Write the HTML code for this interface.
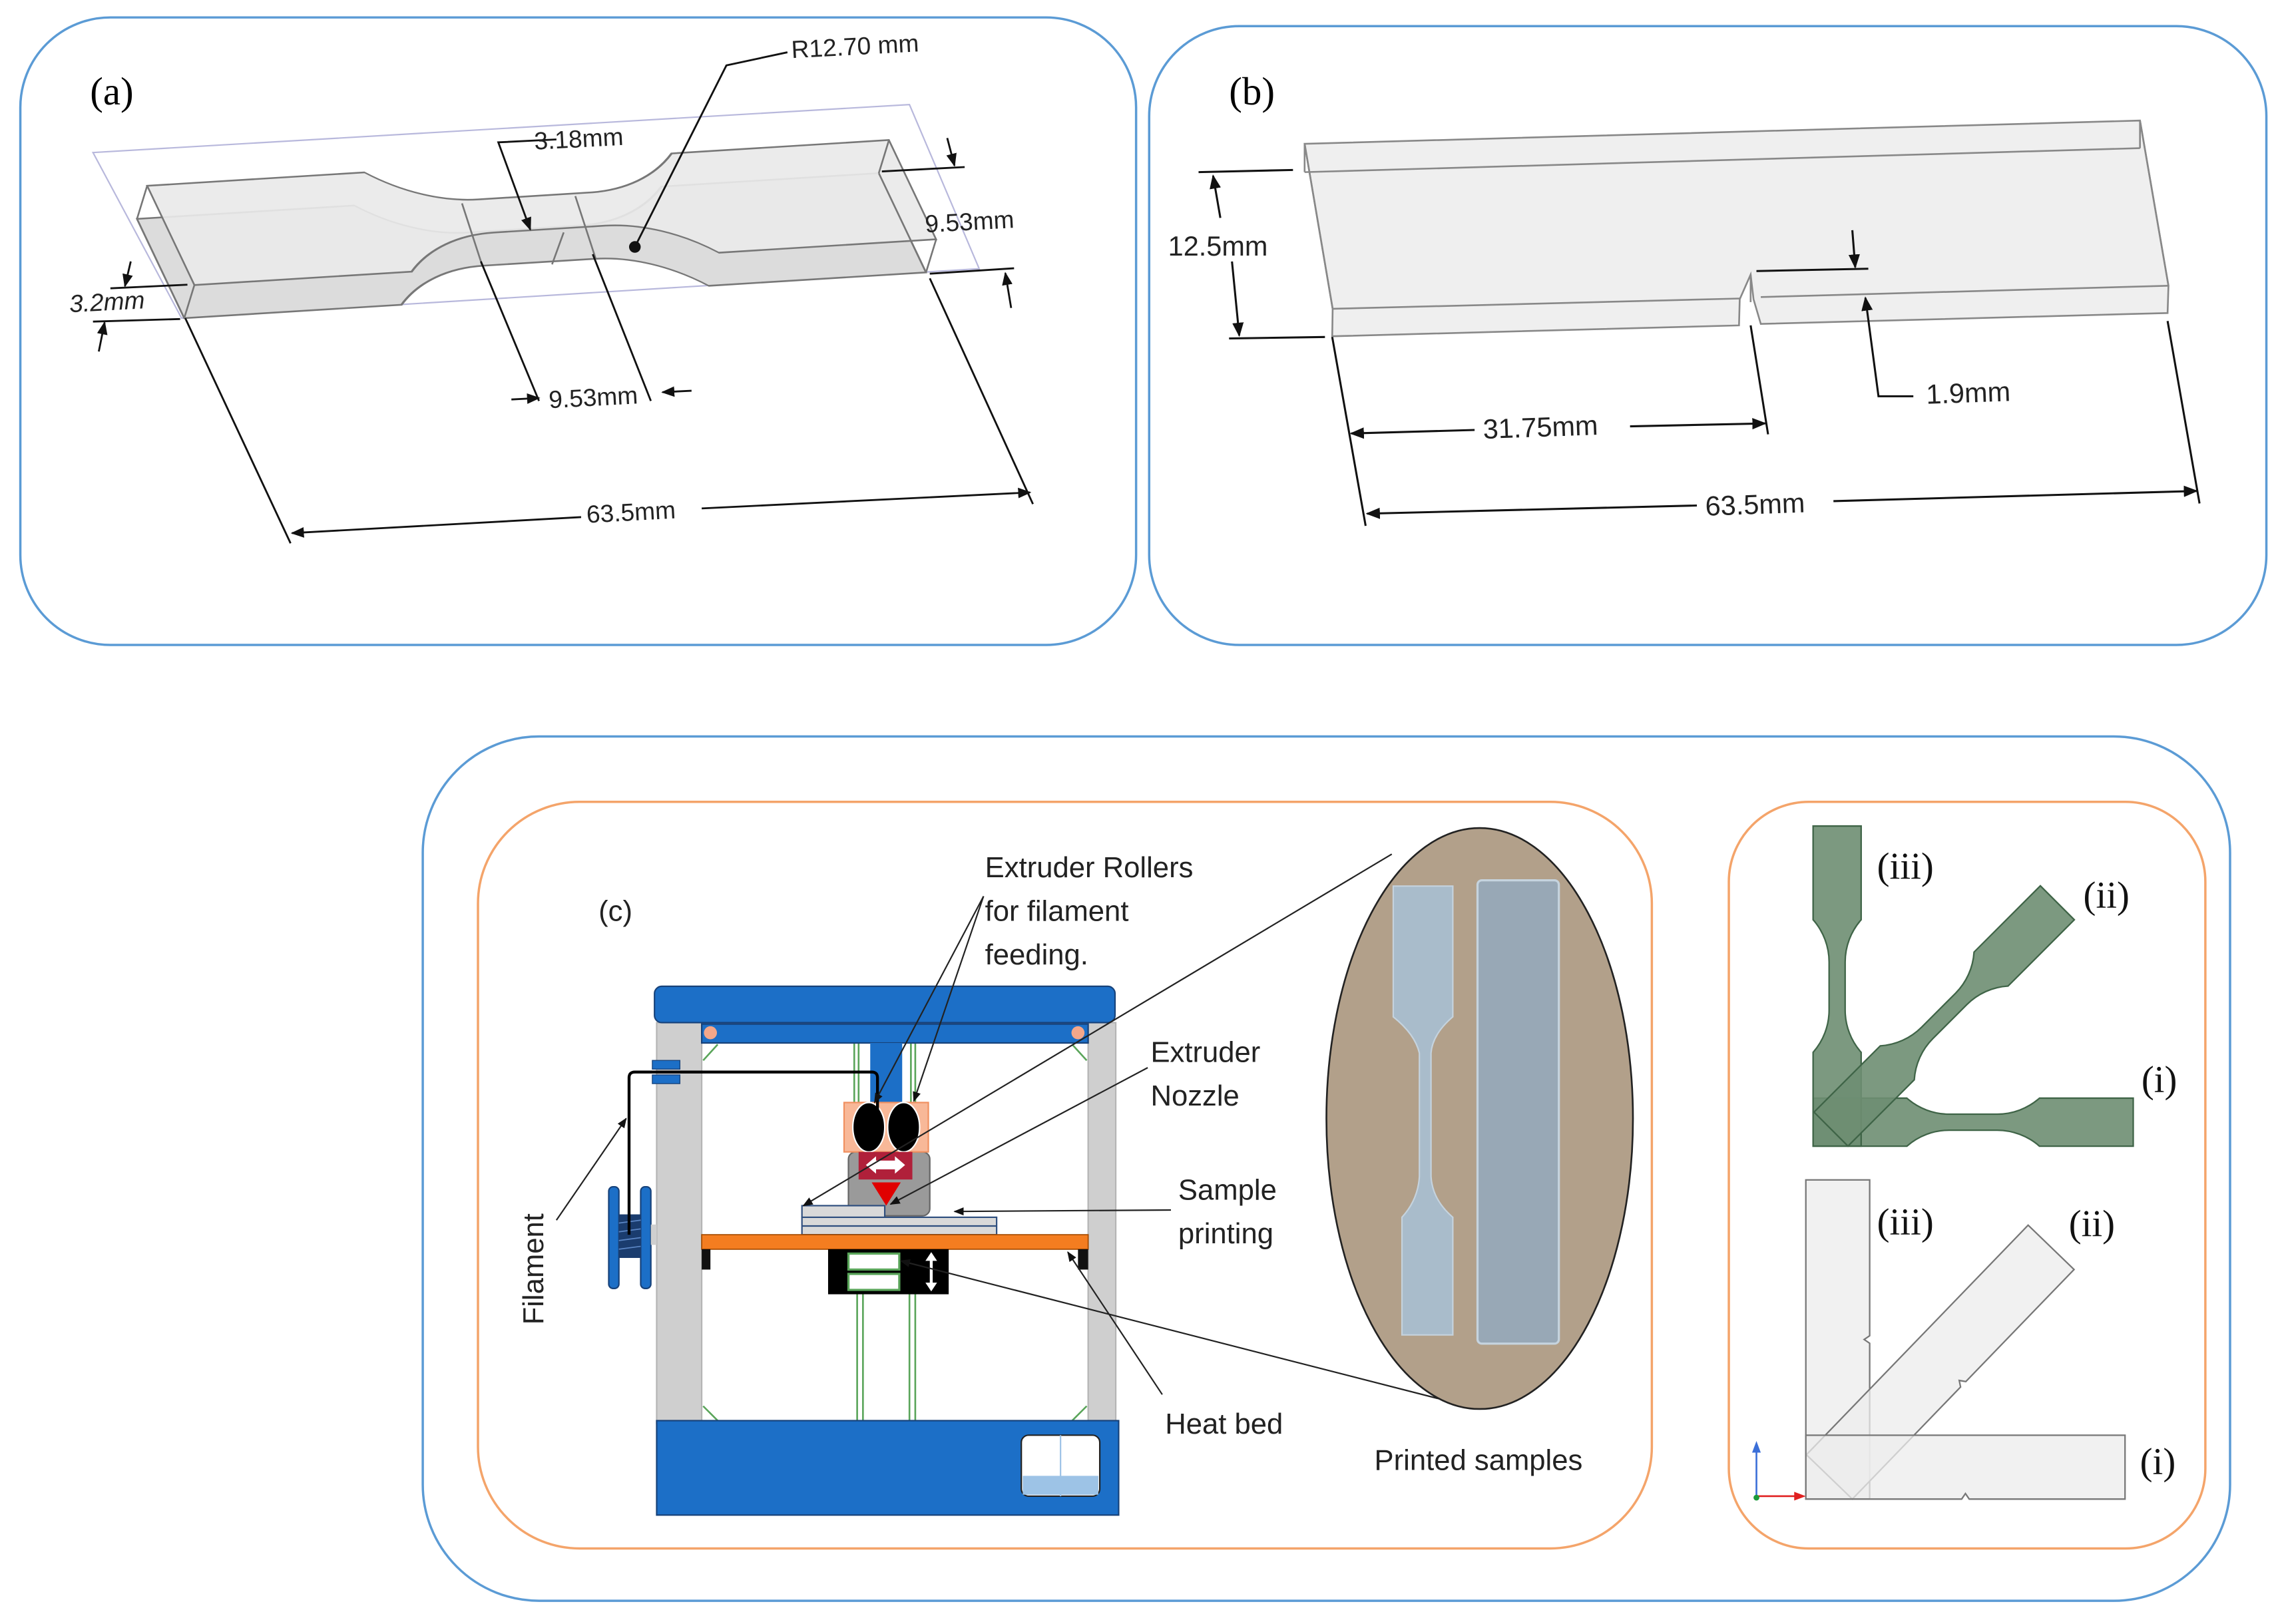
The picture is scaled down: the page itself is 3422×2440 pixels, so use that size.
<!DOCTYPE html>
<html><head><meta charset="utf-8"><style>
html,body{margin:0;padding:0;background:#fff}
svg{display:block}
.s{font-family:"Liberation Sans",sans-serif}
.r{font-family:"Liberation Serif",serif}
</style></head><body>
<svg width="3422" height="2440" viewBox="0 0 1568 1118" preserveAspectRatio="none" xmlns="http://www.w3.org/2000/svg">
<defs>
<marker id="ar" viewBox="0 0 10 10" refX="9" refY="5" markerWidth="7" markerHeight="7" orient="auto-start-reverse"><path d="M0,1 L10,5 L0,9 Z" fill="#111"/></marker>
<path id="db" d="M0,0 L18.6,0 A12.7,12.7 0 0 0 26.99,3.175 L36.51,3.175 A12.7,12.7 0 0 0 44.9,0 L63.5,0 L63.5,9.53 L44.9,9.53 A12.7,12.7 0 0 0 36.51,6.355 L26.99,6.355 A12.7,12.7 0 0 0 18.6,9.53 L0,9.53 Z"/>
<path id="nb" d="M0,0 L63.5,0 L63.5,12.7 L32.5,12.7 L31.75,11.6 L31,12.7 L0,12.7 Z"/>
</defs>

<rect x="14" y="12" width="768" height="432" rx="62" fill="none" stroke="#5b9bd5" stroke-width="1.6"/>
<rect x="791" y="18" width="769" height="426" rx="62" fill="none" stroke="#5b9bd5" stroke-width="1.6"/>
<rect x="291" y="507" width="1244" height="595" rx="80" fill="none" stroke="#5b9bd5" stroke-width="1.6"/>
<rect x="329" y="552" width="808" height="514" rx="70" fill="none" stroke="#f4a46a" stroke-width="1.6"/>
<rect x="1190" y="552" width="328" height="514" rx="55" fill="none" stroke="#f4a46a" stroke-width="1.6"/>

<!-- (a) -->
<text x="62" y="72" class="r" font-size="27">(a)</text>
<polygon points="64,105 626,72 674,185 125,219" fill="none" stroke="#b8b8dc" stroke-width="1"/>
<g transform="translate(-7,22.8)">
<use href="#db" transform="matrix(8.04,-0.496,3.41,7.17,101.3,127.9)" fill="#dcdcdc" stroke="#777" stroke-width="0.16"/>
</g>
<use href="#db" transform="matrix(8.04,-0.496,3.41,7.17,101.3,127.9)" fill="#e9e9e9" fill-opacity="0.92" stroke="#777" stroke-width="0.16"/>
<g stroke="#777" stroke-width="1.2" fill="none">
<line x1="101.3" y1="127.9" x2="94.3" y2="150.7"/>
<line x1="133.8" y1="196.2" x2="126.8" y2="219"/>
<line x1="611.9" y1="96.4" x2="604.9" y2="119.2"/>
<line x1="644.4" y1="164.7" x2="637.4" y2="187.5"/>
<line x1="94.3" y1="150.7" x2="126.8" y2="219"/>
<line x1="637.4" y1="187.5" x2="604.9" y2="119.2"/>
<line x1="318" y1="140" x2="332" y2="183"/>
<line x1="396" y1="135" x2="410" y2="178"/>
<line x1="388" y1="160" x2="380" y2="182"/>
</g>
<g stroke="#111" stroke-width="1.3" fill="none">
<polyline points="383,96 343,98 365,158" marker-end="url(#ar)"/>
<polyline points="542,36 500,45 437,170"/>
<line x1="607" y1="118" x2="664" y2="115"/>
<line x1="640" y1="188.4" x2="698" y2="184.7"/>
<line x1="652" y1="95" x2="657" y2="114" marker-end="url(#ar)"/>
<line x1="696" y1="212" x2="692" y2="188" marker-end="url(#ar)"/>
<line x1="76" y1="198.5" x2="129" y2="196"/>
<line x1="64" y1="221.4" x2="124" y2="219.6"/>
<line x1="90" y1="180" x2="86" y2="197" marker-end="url(#ar)"/>
<line x1="68" y1="242" x2="72" y2="222" marker-end="url(#ar)"/>
<line x1="331" y1="180" x2="371" y2="276"/>
<line x1="408" y1="175" x2="448" y2="276"/>
<line x1="352" y1="275" x2="371" y2="274" marker-end="url(#ar)"/>
<line x1="476" y1="269" x2="456" y2="270" marker-end="url(#ar)"/>
<line x1="127.5" y1="219" x2="200" y2="374"/>
<line x1="640" y1="191.6" x2="711" y2="347"/>
<line x1="201" y1="367" x2="400" y2="356" marker-start="url(#ar)"/>
<line x1="483" y1="350" x2="709" y2="339" marker-end="url(#ar)"/>
</g>
<circle cx="437" cy="170" r="4" fill="#111"/>
<g class="s" font-size="17" fill="#222">
<text x="545" y="40" transform="rotate(-3 545 40)">R12.70 mm</text>
<text x="368" y="103" transform="rotate(-3 368 103)">3.18mm</text>
<text x="637" y="160" transform="rotate(-3 637 160)">9.53mm</text>
<text x="48" y="215" font-style="italic" transform="rotate(-3 48 215)">3.2mm</text>
<text x="378" y="281" transform="rotate(-3 378 281)">9.53mm</text>
<text x="404" y="360" transform="rotate(-3 404 360)">63.5mm</text>
</g>

<!-- (b) -->
<text x="846" y="72" class="r" font-size="27">(b)</text>
<polygon points="898,99 1473,83 1492.6,196.7 1492,215.5 1212,223 1207,206 1205,189 1197.5,206 1197,224 917,231.5 917.3,212.6" fill="#efefef" stroke="#888" stroke-width="1.2"/>
<g stroke="#888" stroke-width="1.2" fill="none">
<line x1="898" y1="118.5" x2="1473" y2="102"/>
<line x1="1473" y1="83" x2="1473" y2="102"/>
<line x1="898" y1="99" x2="898" y2="118.5"/>
<line x1="917.3" y1="212.6" x2="1197.5" y2="205.5"/>
<line x1="1212" y1="204.5" x2="1492.6" y2="196.7"/>
<line x1="898" y1="99" x2="917.3" y2="212.6"/>
<line x1="1473" y1="83" x2="1492.6" y2="196.7"/>
<line x1="1205" y1="189" x2="1205" y2="208"/>
</g>
<g stroke="#111" stroke-width="1.4" fill="none">
<line x1="825" y1="118.5" x2="890" y2="117"/>
<line x1="846" y1="233" x2="912" y2="232"/>
<line x1="840" y1="150" x2="835" y2="121" marker-end="url(#ar)"/>
<line x1="848" y1="180" x2="853" y2="231" marker-end="url(#ar)"/>
<line x1="1209" y1="186.6" x2="1286" y2="185"/>
<line x1="1275" y1="158.5" x2="1277" y2="184" marker-end="url(#ar)"/>
<polyline points="1317,272.8 1293,272.8 1284,205" marker-end="url(#ar)"/>
<line x1="917" y1="232" x2="940" y2="362"/>
<line x1="1205" y1="224" x2="1217" y2="299"/>
<line x1="1492" y1="221" x2="1514" y2="346.6"/>
<line x1="1015" y1="296" x2="930" y2="298.4" marker-end="url(#ar)"/>
<line x1="1122" y1="293.5" x2="1215" y2="291.5" marker-end="url(#ar)"/>
<line x1="1168" y1="348" x2="941" y2="353.6" marker-end="url(#ar)"/>
<line x1="1262" y1="345" x2="1512" y2="338" marker-end="url(#ar)"/>
</g>
<g class="s" font-size="19" fill="#222">
<text x="804" y="176">12.5mm</text>
<text x="1326" y="278" transform="rotate(-2 1326 278)">1.9mm</text>
<text x="1021" y="302" transform="rotate(-2 1021 302)">31.75mm</text>
<text x="1174" y="355" transform="rotate(-2 1174 355)">63.5mm</text>
</g>

<!-- (c) printer -->
<text x="412" y="634" class="s" font-size="20" fill="#222">(c)</text>
<rect x="452" y="704" width="31" height="276" fill="#cfcfcf" stroke="#b5b5b5"/>
<rect x="749" y="704" width="19" height="276" fill="#cfcfcf" stroke="#b5b5b5"/>
<g stroke="#5aa55a" stroke-width="1.2">
<line x1="588" y1="718" x2="588" y2="760"/><line x1="591" y1="718" x2="591" y2="760"/>
<line x1="627" y1="718" x2="627" y2="760"/><line x1="630" y1="718" x2="630" y2="760"/>
<line x1="590" y1="890" x2="590" y2="978"/><line x1="594" y1="890" x2="594" y2="978"/>
<line x1="626" y1="890" x2="626" y2="978"/><line x1="630" y1="890" x2="630" y2="978"/>
<line x1="484" y1="730" x2="494" y2="719"/><line x1="748" y1="730" x2="738" y2="719"/>
<line x1="484" y1="968" x2="494" y2="978"/><line x1="748" y1="968" x2="738" y2="978"/>
</g>
<rect x="450.5" y="679" width="317" height="25" rx="5" fill="#1c6fc7" stroke="#17427a" stroke-width="1"/>
<rect x="483" y="705" width="266" height="13" fill="#1c6fc7" stroke="#17427a" stroke-width="1"/>
<circle cx="489" cy="711" r="4.5" fill="#f4a78a"/>
<circle cx="742" cy="711" r="4.5" fill="#f4a78a"/>
<rect x="599" y="718" width="22" height="41" fill="#1c6fc7"/>
<rect x="584" y="793" width="56" height="44" rx="5" fill="#9a9a9a" stroke="#666"/>
<rect x="581" y="759" width="58" height="34" fill="#f8b898" stroke="#f09060"/>
<ellipse cx="598" cy="776" rx="11" ry="17" fill="#000" stroke="#fff" stroke-width="1"/>
<ellipse cx="622" cy="776" rx="11" ry="17" fill="#000" stroke="#fff" stroke-width="1"/>
<rect x="591" y="793" width="37" height="19" fill="#b0203a"/>
<path d="M596,802 L603,796 L603,799 L616,799 L616,796 L623,802 L616,808 L616,805 L603,805 L603,808 Z" fill="#fff"/>
<polygon points="600,814 620,814 610,830" fill="#e00000"/>
<rect x="552" y="838" width="134" height="12" fill="#d9d9d9" stroke="#2f4f7f" stroke-width="1"/>
<line x1="552" y1="844" x2="686" y2="844" stroke="#2f4f7f" stroke-width="1"/>
<rect x="552" y="830" width="57" height="8" fill="#d9d9d9" stroke="#2f4f7f" stroke-width="1"/>
<rect x="483" y="850" width="266" height="10" fill="#f47d20" stroke="#a84c00" stroke-width="0.8"/>
<rect x="483" y="860" width="6" height="14" fill="#111"/>
<rect x="742" y="860" width="7" height="14" fill="#111"/>
<rect x="570" y="860" width="83" height="31" fill="#000"/>
<rect x="584" y="863" width="35" height="11" fill="#fff" stroke="#5aa55a" stroke-width="1.5"/>
<rect x="584" y="877" width="35" height="11" fill="#fff" stroke="#5aa55a" stroke-width="1.5"/>
<line x1="641" y1="866" x2="641" y2="886" stroke="#fff" stroke-width="2"/>
<polygon points="641,862 637,868 645,868" fill="#fff"/><polygon points="641,889 637,883 645,883" fill="#fff"/>
<rect x="452" y="978" width="318" height="65" fill="#1c6fc7" stroke="#17427a" stroke-width="1"/>
<rect x="703" y="988" width="54" height="42" rx="5" fill="#fff" stroke="#222" stroke-width="1"/>
<rect x="704" y="1016" width="52" height="13" fill="#9dc3e6"/>
<line x1="730" y1="988" x2="730" y2="1030" stroke="#9dc3e6"/>
<rect x="419" y="817" width="7" height="70" rx="3" fill="#1c6fc7" stroke="#17427a"/>
<rect x="441" y="817" width="7" height="70" rx="3" fill="#1c6fc7" stroke="#17427a"/>
<rect x="426" y="836" width="15" height="30" fill="#1a3c6e"/>
<g stroke="#5b86c5" stroke-width="0.8"><line x1="426" y1="842" x2="441" y2="840"/><line x1="426" y1="848" x2="441" y2="846"/><line x1="426" y1="854" x2="441" y2="852"/><line x1="426" y1="860" x2="441" y2="858"/></g>
<rect x="448" y="843" width="4" height="14" fill="#cfcfcf"/>
<rect x="449" y="730" width="19" height="6" fill="#1c6fc7" stroke="#17427a" stroke-width="0.6"/>
<rect x="449" y="740" width="19" height="6" fill="#1c6fc7" stroke="#17427a" stroke-width="0.6"/>
<path d="M433,850 L433,742 Q433,738 437,738 L600,738 Q604,738 604,742 L604,770" fill="none" stroke="#000" stroke-width="2"/>
<g stroke="#222" stroke-width="1" fill="none">
<line x1="677" y1="617" x2="602" y2="759" marker-end="url(#ar)"/>
<line x1="677" y1="617" x2="629" y2="758" marker-end="url(#ar)"/>
<line x1="790" y1="735" x2="613" y2="829" marker-end="url(#ar)"/>
<line x1="958" y1="588" x2="553" y2="830" marker-end="url(#ar)"/>
<line x1="806" y1="833" x2="657" y2="834" marker-end="url(#ar)"/>
<line x1="800" y1="960" x2="735" y2="862" marker-end="url(#ar)"/>
<line x1="1018" y1="970" x2="620" y2="868" marker-end="url(#ar)"/>
<line x1="383" y1="840" x2="431" y2="770" marker-end="url(#ar)"/>
</g>
<g class="s" font-size="20" fill="#222">
<text x="678" y="604">Extruder Rollers</text>
<text x="678" y="634">for filament</text>
<text x="678" y="664">feeding.</text>
<text x="792" y="731">Extruder</text>
<text x="792" y="761">Nozzle</text>
<text x="811" y="826">Sample</text>
<text x="811" y="856">printing</text>
<text x="802" y="987">Heat bed</text>
<text x="946" y="1012">Printed samples</text>
<text x="0" y="0" transform="translate(374,912) rotate(-90)">Filament</text>
</g>
<ellipse cx="1018.5" cy="770" rx="105.5" ry="200" fill="#b2a08a" stroke="#222" stroke-width="1.2"/>
<path d="M959,610 L1000,610 L1000,700 Q986,712 985,725 L985,810 Q986,826 1000,838 L1000,919 L965,919 L965,838 Q976,826 977,810 L977,725 Q974,712 959,700 Z" fill="#a9bccb" stroke="#c5d3de" stroke-width="1"/>
<rect x="1017" y="606" width="56" height="319" rx="3" fill="#98a8b6" stroke="#c5d3de" stroke-width="1.5"/>

<!-- right panel -->
<g fill="#6e8e72" fill-opacity="0.9" stroke="#3f6447" stroke-width="0.3">
<use href="#db" transform="translate(1248,756) scale(3.47)"/>
<use href="#db" transform="translate(1248,789) rotate(-90) scale(3.47)"/>
<use href="#db" transform="translate(1272,789) rotate(-45) scale(3.47) translate(0,-9.53)"/>
</g>
<g fill="#ececec" fill-opacity="0.75" stroke="#777" stroke-width="0.3">
<use href="#nb" transform="translate(1243,1032) rotate(-90) scale(3.46)"/>
<use href="#nb" transform="translate(1275,1032) rotate(-46) scale(3.46) translate(0,-12.7)"/>
<use href="#nb" transform="translate(1243,1032) scale(3.46) translate(0,-12.7)"/>
</g>
<line x1="1209" y1="1030" x2="1209" y2="996" stroke="#3b6fd8" stroke-width="1.2"/>
<polygon points="1209,992 1206,1000 1212,1000" fill="#3b6fd8"/>
<line x1="1209" y1="1030" x2="1238" y2="1030" stroke="#e02020" stroke-width="1.2"/>
<polygon points="1243,1030 1235,1027 1235,1033" fill="#e02020"/>
<circle cx="1209" cy="1031" r="2" fill="#1a9a3a"/>
<g class="r" font-size="26" fill="#111">
<text x="1292" y="605">(iii)</text>
<text x="1434" y="625">(ii)</text>
<text x="1474" y="752">(i)</text>
<text x="1292" y="850">(iii)</text>
<text x="1424" y="851">(ii)</text>
<text x="1473" y="1015">(i)</text>
</g>
</svg>
</body></html>
